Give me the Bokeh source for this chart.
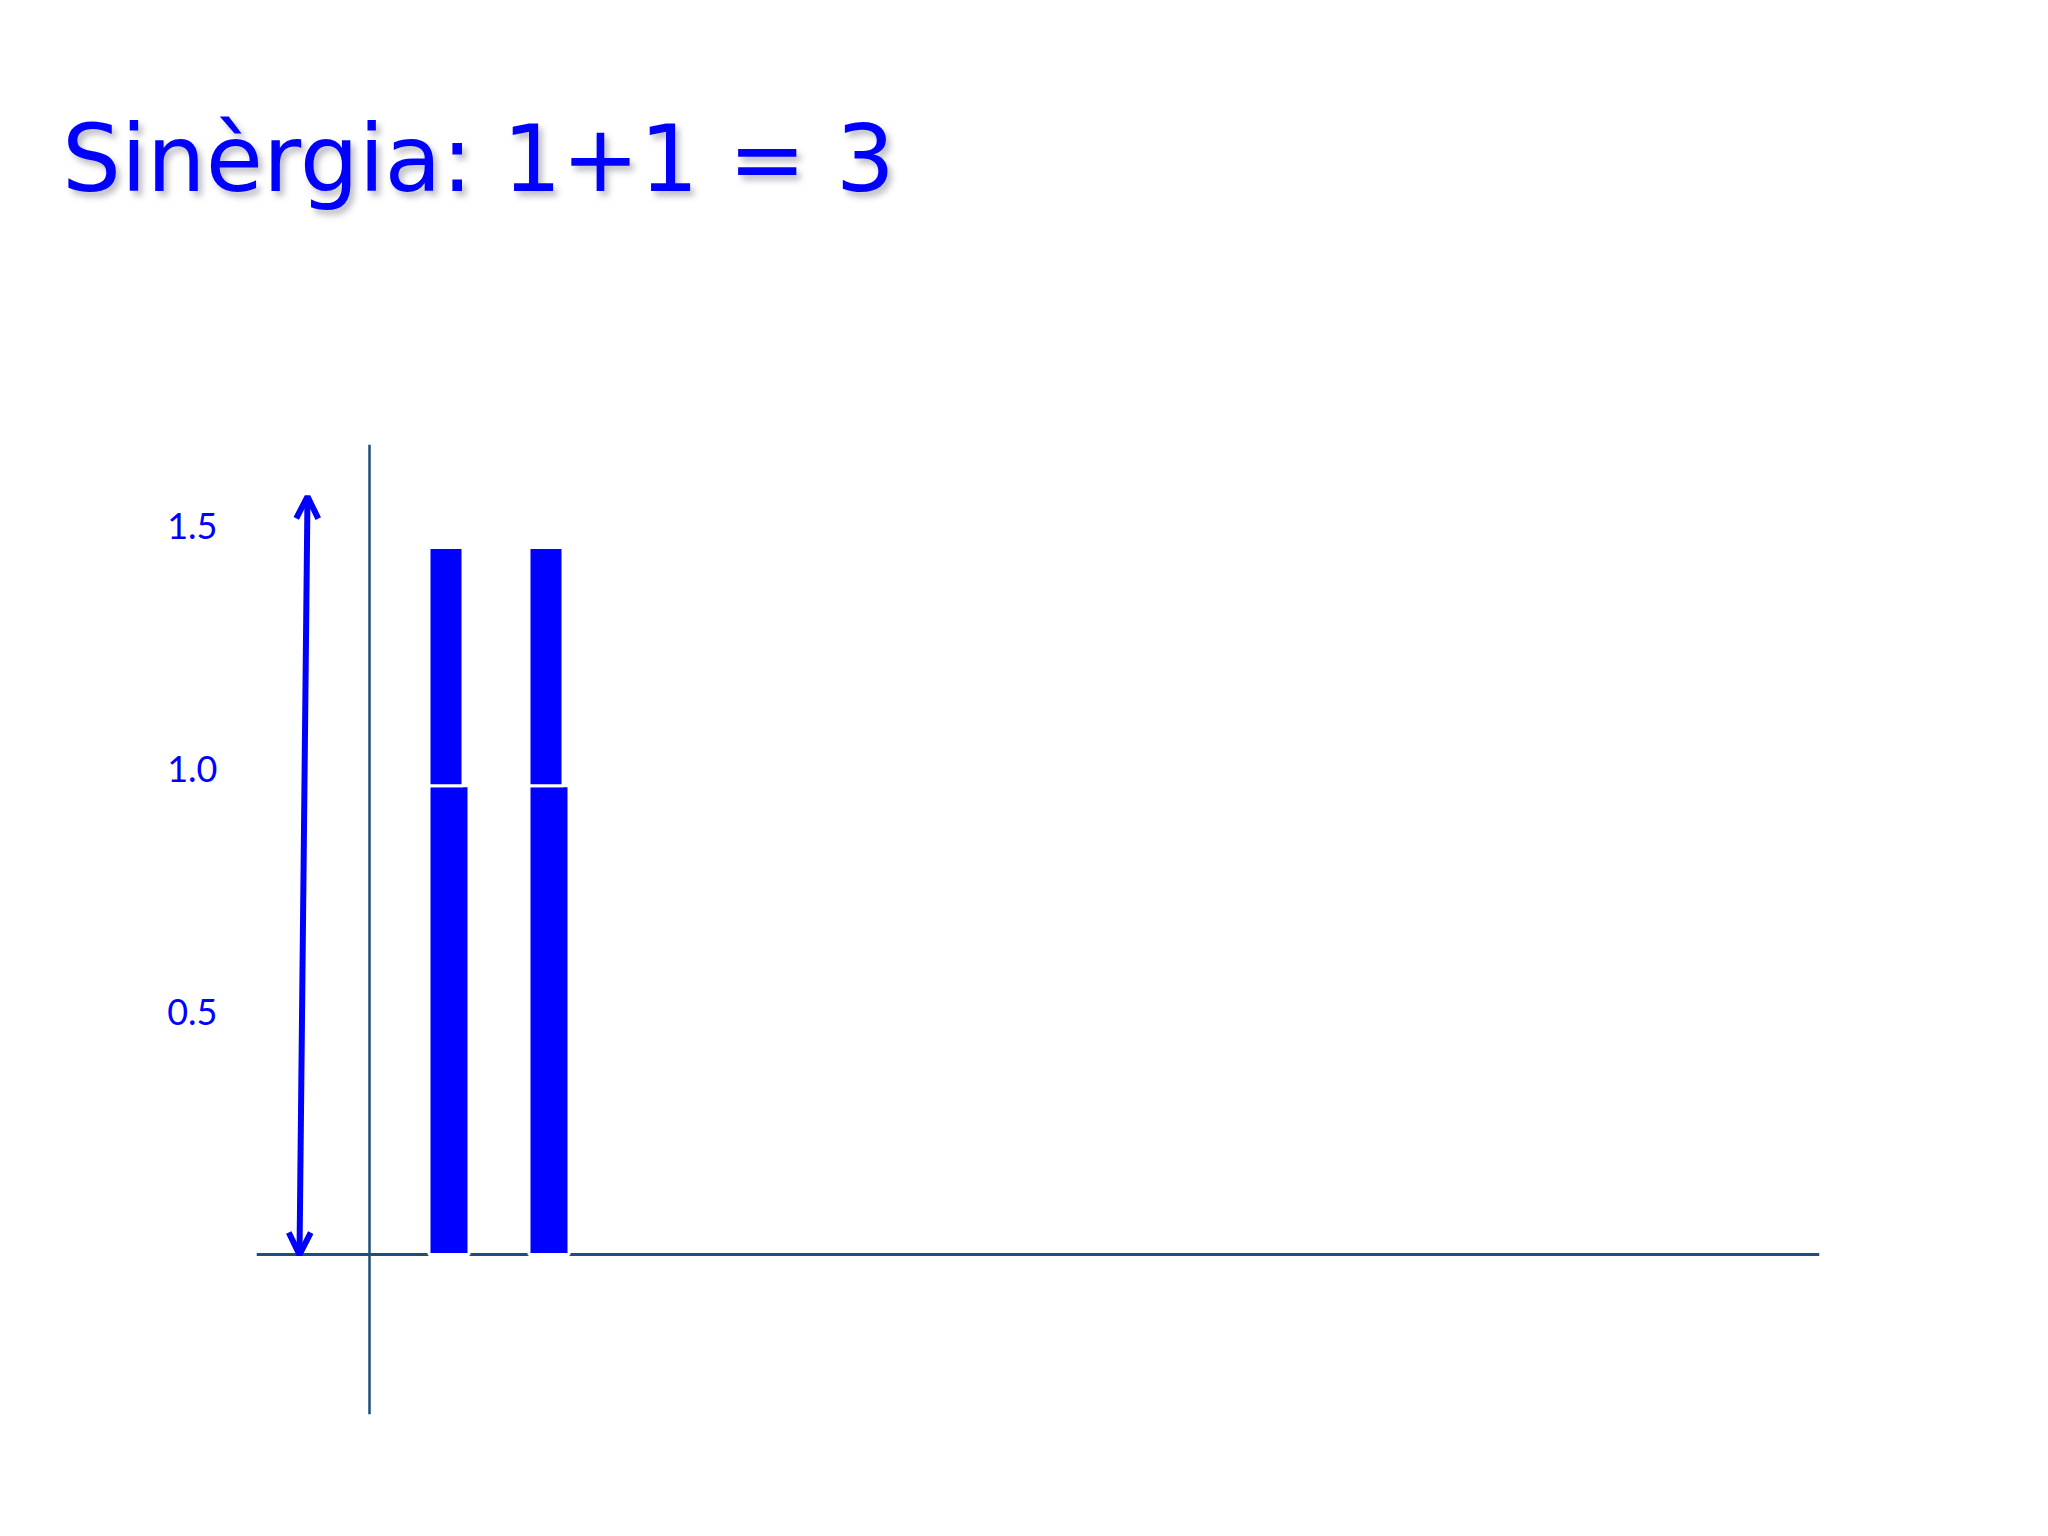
from bokeh.plotting import figure
from bokeh.models import Span, Arrow, OpenHead, FixedTicker, Div
from bokeh.layouts import column
from bokeh.embed import file_html
from bokeh.resources import INLINE

# ---- data ----
title_text = "Sinèrgia: 1+1 = 3"
bar_x = [1, 2]
base_values = [0.965, 0.965]      # lower segment (value of each part)
extra_values = [0.49, 0.49]       # upper segment stacked on top
tick_values = [0.5, 1.0, 1.5]
tick_labels = ["0.5", "1.0", "1.5"]
arrow_x = [-0.495, -0.415]        # bottom, top
arrow_y = [0.0, 1.56]
vaxis_x = 0.205

BLUE = "#0000FF"
NAVY = "#1F4E79"

title_div = Div(
    text=('<div style="font-family:\'DejaVu Sans\'; font-size:93px; line-height:93px; '
          'color:#0000FF; white-space:nowrap; padding-left:62px; padding-top:113px; '
          'text-shadow:4px 5px 6px rgba(60,60,90,0.35);">' + title_text + '</div>'),
    width=2032, height=444, margin=0)

p = figure(width=2032, height=1076, output_backend="svg", toolbar_location=None,
           x_range=(-0.925, 14.705), y_range=(-0.329, 1.667),
           min_border_left=256, min_border_right=213, min_border_top=0,
           min_border_bottom=106, background_fill_color="white",
           border_fill_color="white", outline_line_color=None, margin=0)

p.xaxis.visible = False
p.xgrid.visible = False
p.ygrid.visible = False

ya = p.yaxis[0]
ya.ticker = FixedTicker(ticks=tick_values)
ya.major_label_overrides = {v: s for v, s in zip(tick_values, tick_labels)}
ya.axis_line_color = None
ya.major_tick_line_color = None
ya.minor_tick_line_color = None
ya.major_tick_out = 0
ya.major_tick_in = 0
ya.minor_tick_out = 0
ya.major_label_standoff = 39
ya.major_label_text_color = BLUE
ya.major_label_text_font = "Lato"
ya.major_label_text_font_size = "36px"

# axes lines
p.add_layout(Span(location=0, dimension="width", line_color=NAVY, line_width=3, level="underlay"))
p.add_layout(Span(location=vaxis_x, dimension="height", line_color=NAVY, line_width=2.5, level="underlay"))

# stacked bars
tops = [b + e for b, e in zip(base_values, extra_values)]
p.vbar(x=bar_x, bottom=0, top=base_values, width=0.40, fill_color=BLUE,
       line_color="white", line_width=3)
p.vbar(x=[x - 0.03 for x in bar_x], bottom=base_values, top=tops, width=0.34,
       fill_color=BLUE, line_color="white", line_width=3)

# double arrow
p.add_layout(Arrow(x_start=arrow_x[0], y_start=arrow_y[0], x_end=arrow_x[1], y_end=arrow_y[1],
                   line_color=BLUE, line_width=6,
                   start=OpenHead(size=22, line_color=BLUE, line_width=6),
                   end=OpenHead(size=22, line_color=BLUE, line_width=6)))

layout = column(title_div, p, spacing=0)
open("out.html", "w").write(file_html(layout, INLINE))
